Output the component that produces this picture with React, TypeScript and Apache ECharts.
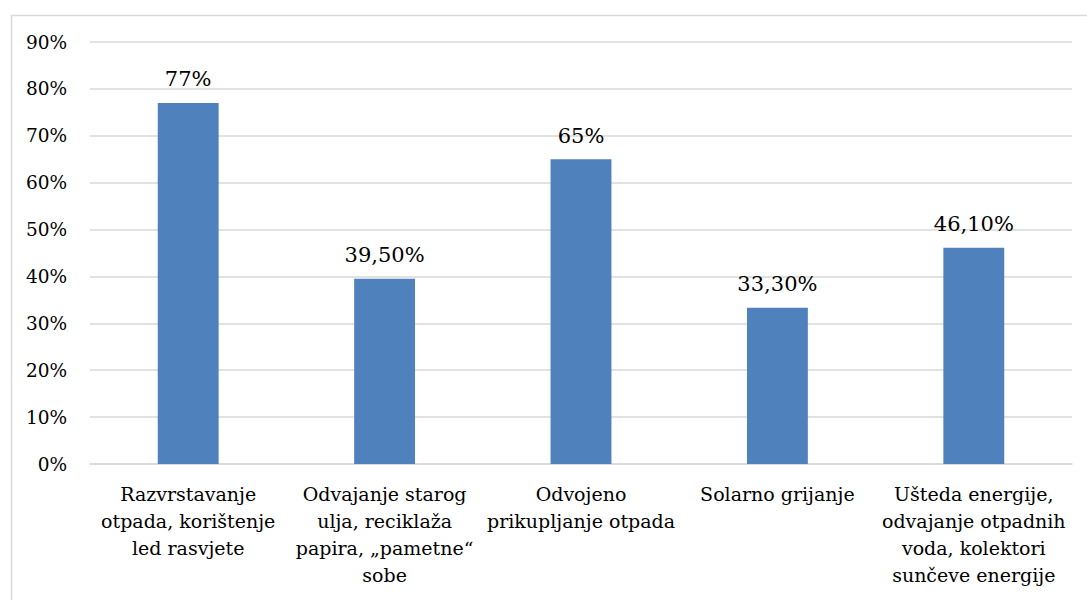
import React, { useEffect, useRef } from "react";
import * as echarts from "echarts";

const categories = [
  "Razvrstavanje\notpada, korištenje\nled rasvjete",
  "Odvajanje starog\nulja, reciklaža\npapira, „pametne“\nsobe",
  "Odvojeno\nprikupljanje otpada",
  "Solarno grijanje",
  "Ušteda energije,\nodvajanje otpadnih\nvoda, kolektori\nsunčeve energije",
];
const values = [77, 39.5, 65, 33.3, 46.1];
const valueLabels = ["77%", "39,50%", "65%", "33,30%", "46,10%"];

const FONT = "DejaVu Serif";

export default function App() {
  const ref = useRef<HTMLDivElement>(null);
  useEffect(() => {
    document.body.style.margin = "0";
    const chart = echarts.init(ref.current!, null, { renderer: "svg" });
    chart.setOption({
      animation: false,
      textStyle: { fontFamily: FONT },
      graphic: [
        {
          type: "rect",
          left: 9,
          top: 13,
          shape: { width: 1100, height: 620 },
          style: { fill: "none", stroke: "#d9d9d9", lineWidth: 1.5 },
          silent: true,
        },
      ],
      grid: { left: 90, right: 15, top: 42, bottom: 136, containLabel: false },
      xAxis: {
        type: "category",
        data: categories,
        axisLine: { show: true, lineStyle: { color: "#d9d9d9", width: 1.5 } },
        axisTick: { show: false },
        axisLabel: {
          interval: 0,
          margin: 16,
          fontFamily: FONT,
          fontSize: 19,
          lineHeight: 27,
          color: "#000",
          align: "center",
        },
      },
      yAxis: {
        type: "value",
        min: 0,
        max: 90,
        interval: 10,
        axisLine: { show: false },
        axisTick: { show: false },
        splitLine: { lineStyle: { color: "#d9d9d9", width: 1.5 } },
        axisLabel: {
          formatter: (v: number) => v + "%",
          margin: 23,
          fontFamily: FONT,
          fontSize: 18.5,
          color: "#000",
        },
      },
      series: [
        {
          type: "bar",
          data: values,
          barWidth: "31%",
          itemStyle: { color: "#4F81BD" },
          label: {
            show: true,
            position: "top",
            distance: 13,
            fontFamily: FONT,
            fontSize: 21,
            color: "#000",
            formatter: (p: any) => valueLabels[p.dataIndex],
          },
        },
      ],
    });
    return () => chart.dispose();
  }, []);
  return <div ref={ref} style={{ width: 1087, height: 600 }} />;
}
